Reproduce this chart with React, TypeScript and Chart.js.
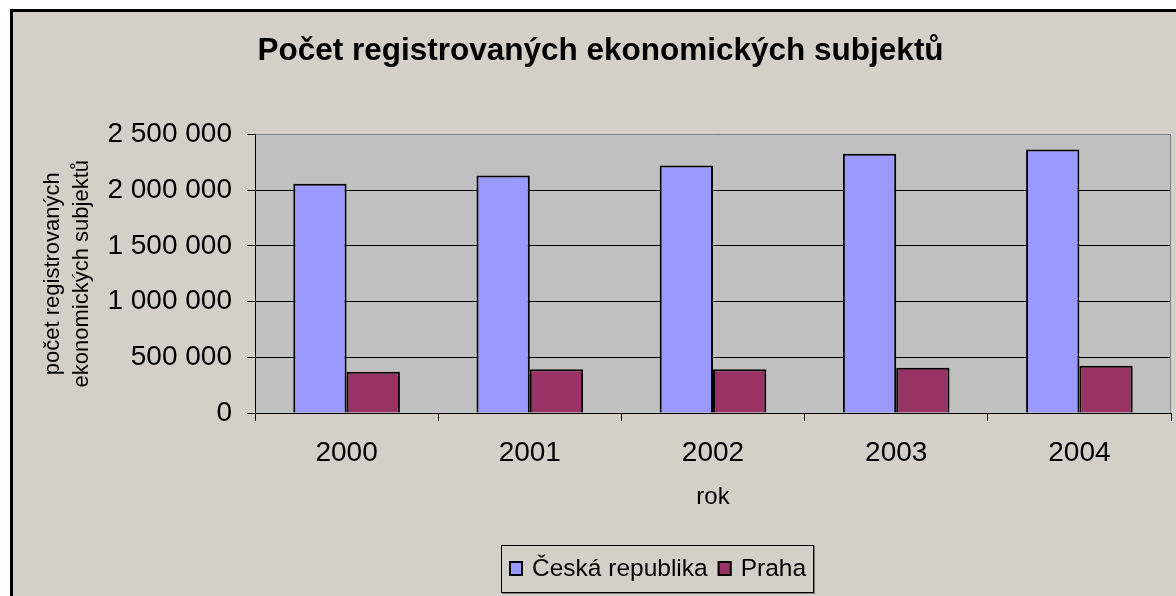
import React, { useEffect, useRef } from "react";
import { Chart, registerables } from "chart.js";

Chart.register(...registerables);

const categories = ["2000", "2001", "2002", "2003", "2004"];
const ceskaRepublika = [2058000, 2131000, 2221000, 2326000, 2365000];
const praha = [371000, 393000, 393000, 407000, 423000];
const seriesNames = ["Česká republika", "Praha"];
const chartTitle = "Počet registrovaných ekonomických subjektů";
const yTitle = ["počet registrovaných", "ekonomických subjektů"];
const xTitle = "rok";
const yMax = 2500000;
const yStep = 500000;

const FONT = "'Liberation Sans', Arial, sans-serif";
const BG = "#D4D0C8";
const PLOT_BG = "#C0C0C0";

const fmt = (v: number) =>
  Math.round(v).toString().replace(/\B(?=(\d{3})+(?!\d))/g, " ");

const plotPlugin = {
  id: "plotBg",
  beforeDraw(chart: any) {
    const { ctx, chartArea } = chart;
    ctx.save();
    ctx.fillStyle = BG;
    ctx.fillRect(0, 0, chart.width, chart.height);
    ctx.fillStyle = PLOT_BG;
    ctx.fillRect(
      chartArea.left,
      chartArea.top,
      chartArea.right - chartArea.left,
      chartArea.bottom - chartArea.top
    );
    ctx.restore();
  },
  beforeDatasetsDraw(chart: any) {
    const { ctx, chartArea } = chart;
    ctx.save();
    ctx.strokeStyle = "#808080";
    ctx.lineWidth = 1;
    ctx.beginPath();
    const x = Math.round(chartArea.right) - 0.5;
    ctx.moveTo(x, chartArea.top);
    ctx.lineTo(x, chartArea.bottom);
    ctx.stroke();
    ctx.restore();
  },
};

const legendPlugin = {
  id: "boxLegend",
  afterDraw(chart: any) {
    const { ctx } = chart;
    const fontSize = 24.5;
    ctx.save();
    ctx.font = `${fontSize}px ${FONT}`;
    const pad = 8;
    const sw = 14;
    const gapSwText = 9;
    const gapItems = 10;
    const items = chart.data.datasets.map((ds: any) => ({
      label: ds.label,
      color: ds.backgroundColor,
      w: ctx.measureText(ds.label).width,
    }));
    let total = pad * 2;
    items.forEach((it: any, i: number) => {
      total += sw + gapSwText + it.w + (i < items.length - 1 ? gapItems : 0);
    });
    const centerX = 644.5;
    const top = 533;
    const h = 48;
    const left = Math.round(centerX - total / 2);
    ctx.fillStyle = "#808080";
    ctx.fillRect(left + 1, top + 1, total, h);
    ctx.fillStyle = BG;
    ctx.fillRect(left, top, total, h);
    ctx.strokeStyle = "#000";
    ctx.lineWidth = 1;
    ctx.strokeRect(left + 0.5, top + 0.5, total - 1, h - 1);
    let x = left + pad;
    const cy = top + h / 2;
    items.forEach((it: any) => {
      ctx.fillStyle = it.color;
      ctx.fillRect(x, cy - 8, sw, 15);
      ctx.strokeStyle = "#000";
      ctx.lineWidth = 2;
      ctx.strokeRect(x + 1, cy - 7, sw - 2, 13);
      x += sw + gapSwText;
      ctx.fillStyle = "#000";
      ctx.textBaseline = "middle";
      ctx.textAlign = "left";
      ctx.fillText(it.label, x, cy + 0.5);
      x += it.w + gapItems;
    });
    ctx.restore();
  },
};

export default function App() {
  const ref = useRef<HTMLCanvasElement | null>(null);

  useEffect(() => {
    if (!ref.current) return;
    const chart = new Chart(ref.current, {
      type: "bar",
      data: {
        labels: categories,
        datasets: [
          {
            label: seriesNames[0],
            data: ceskaRepublika,
            backgroundColor: "#9999FF",
            borderColor: "#000000",
            borderWidth: 2,
          },
          {
            label: seriesNames[1],
            data: praha,
            backgroundColor: "#993366",
            borderColor: "#000000",
            borderWidth: 2,
          },
        ],
      },
      options: {
        responsive: false,
        animation: false,
        devicePixelRatio: 1,
        layout: { padding: { left: 17, right: 5, top: 0, bottom: 84 } },
        datasets: {
          bar: { categoryPercentage: 0.582, barPercentage: 1 },
        },
        plugins: {
          legend: { display: false },
          tooltip: { enabled: false },
          title: {
            display: true,
            text: chartTitle,
            color: "#000",
            font: { family: FONT, size: 31.5, weight: "bold", lineHeight: 1.2 },
            padding: { top: 20.8, bottom: 63.8 },
          },
        },
        scales: {
          x: {
            offset: true,
            grid: {
              display: true,
              drawOnChartArea: false,
              drawTicks: true,
              tickLength: 8,
              color: "#000",
            },
            border: { display: true, color: "#000", width: 1 },
            ticks: {
              color: "#000",
              padding: 15,
              font: { family: FONT, size: 28 },
              maxRotation: 0,
            },
            title: {
              display: true,
              text: xTitle,
              color: "#000",
              font: { family: FONT, size: 24, lineHeight: 1.2 },
              padding: { top: 0, bottom: 0 },
            },
            afterFit(scale: any) {
              scale.height = 99;
            },
          },
          y: {
            min: 0,
            max: yMax,
            grid: {
              display: true,
              drawTicks: true,
              tickLength: 8,
              tickColor: "#000",
              color: (c: any) =>
                c.tick && c.tick.value === yMax ? "#808080" : "#000",
            },
            border: { display: true, color: "#000", width: 1 },
            ticks: {
              stepSize: yStep,
              color: "#000",
              padding: 15,
              font: { family: FONT, size: 28 },
              callback: (v: any) => fmt(Number(v)),
            },
            title: {
              display: true,
              text: yTitle,
              color: "#000",
              font: { family: FONT, size: 22, lineHeight: 1.3 },
              padding: { top: 8.7, bottom: 0 },
            },
            afterFit(scale: any) {
              scale.width = 225;
            },
          },
        },
      },
      plugins: [plotPlugin, legendPlugin],
    });
    return () => chart.destroy();
  }, []);

  return (
    <div
      style={{
        position: "fixed",
        left: 0,
        top: 0,
        width: 1176,
        height: 596,
        overflow: "hidden",
        background: "#fff",
      }}
    >
      <div
        style={{
          position: "absolute",
          left: 10,
          top: 9,
          width: 1300,
          height: 700,
          border: "3px solid #000",
          background: BG,
        }}
      >
        <canvas
          ref={ref}
          width={1163}
          height={584}
          style={{ display: "block", width: 1163, height: 584 }}
        />
      </div>
    </div>
  );
}
